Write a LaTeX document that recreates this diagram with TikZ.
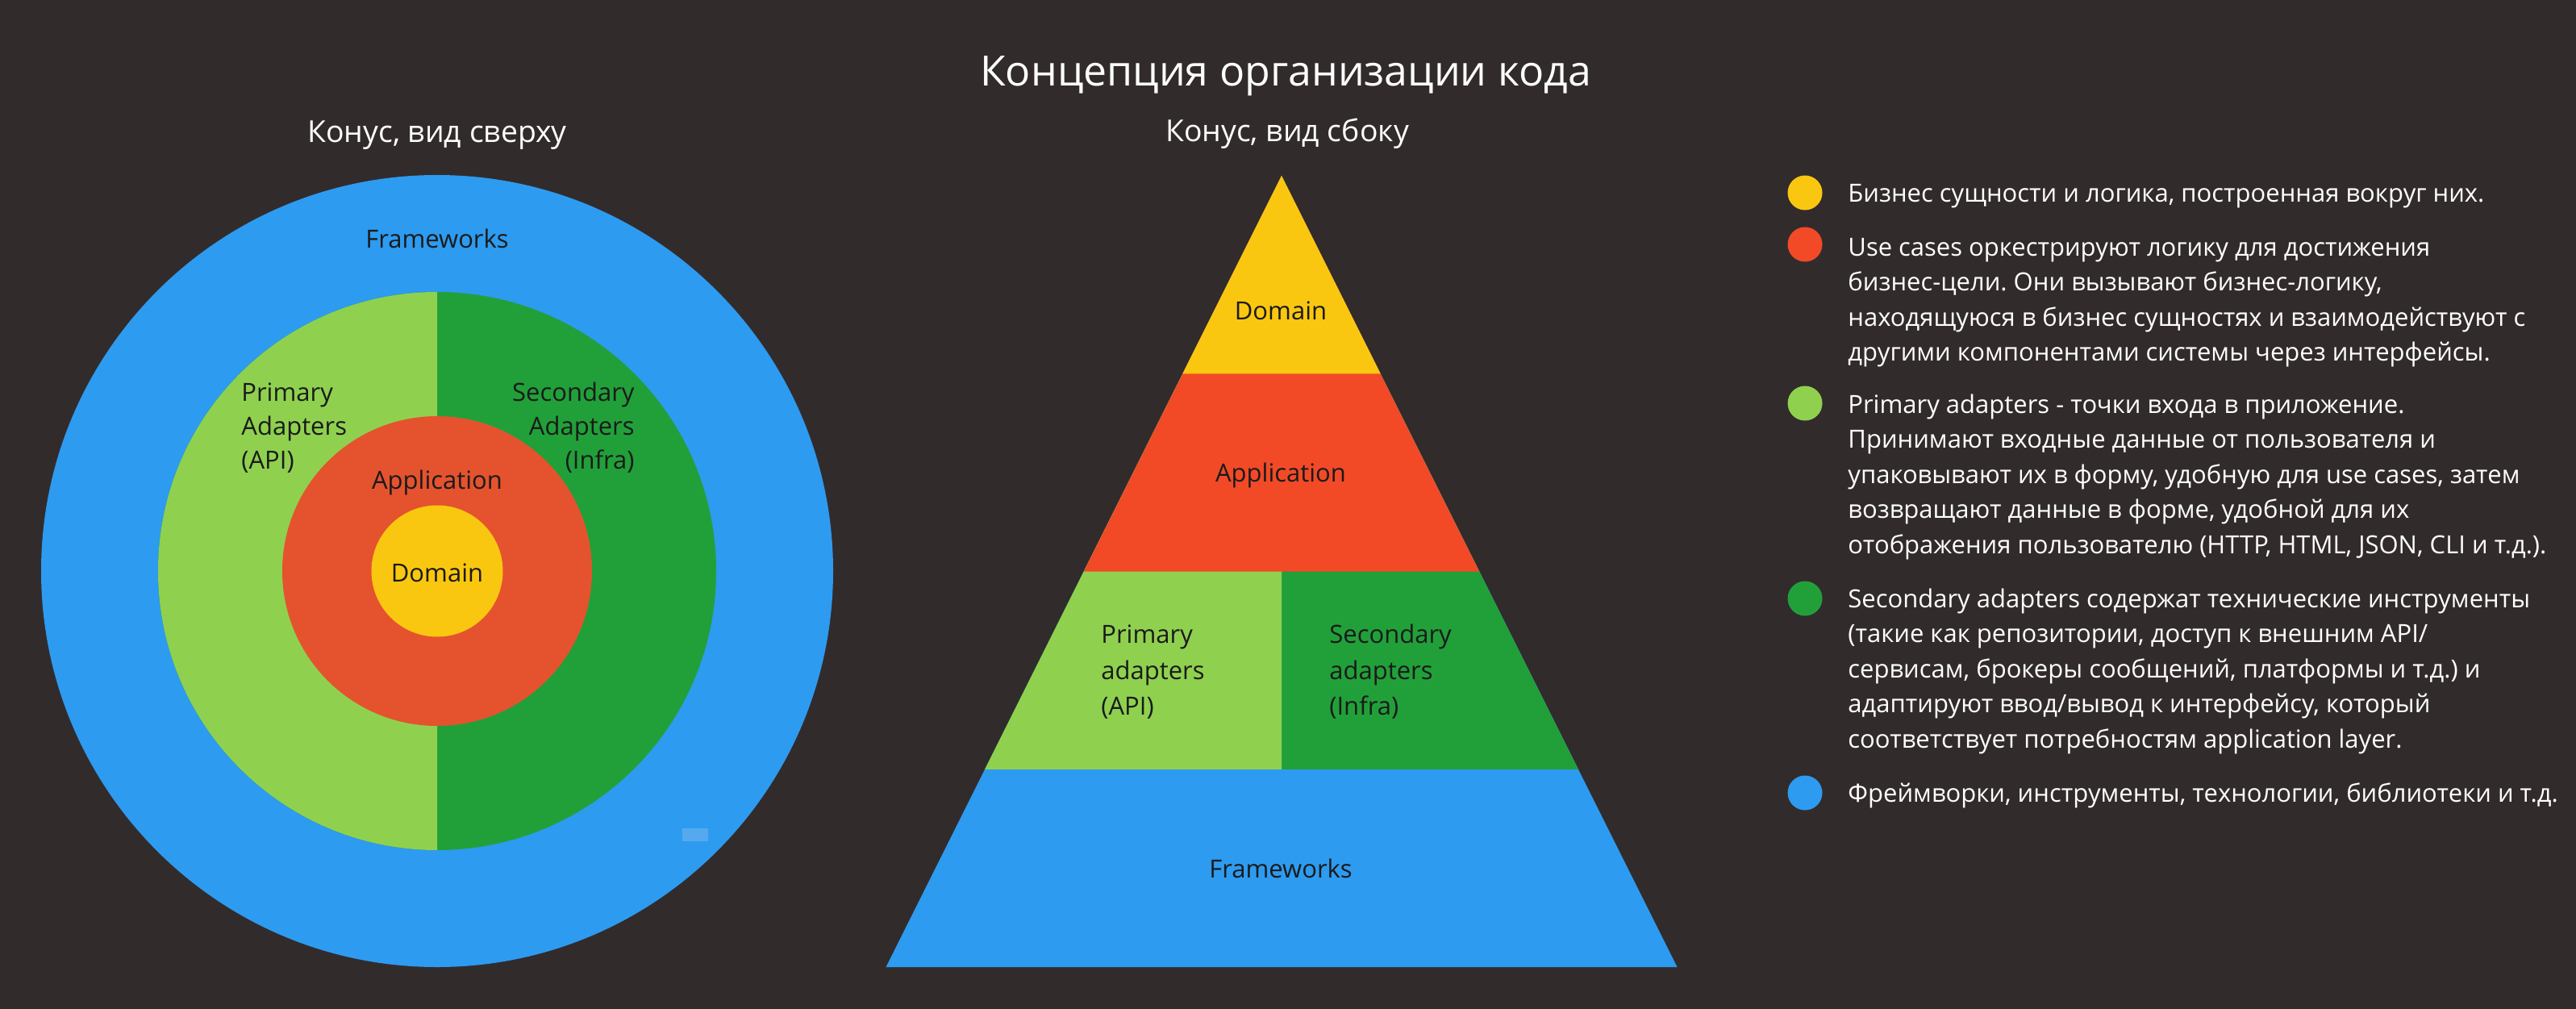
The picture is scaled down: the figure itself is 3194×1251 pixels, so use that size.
\documentclass[tikz,border=0pt]{standalone}
\usepackage{fontspec}
\setmainfont{Open Sans}
\frenchspacing
\definecolor{bg}{HTML}{322B2C}
\definecolor{cblue}{HTML}{2D9BF0}
\definecolor{lgreen}{HTML}{8FD14F}
\definecolor{dgreen}{HTML}{21A03A}
\definecolor{cred}{HTML}{E4532E}
\definecolor{pred}{HTML}{F24A27}
\definecolor{cyellow}{HTML}{FAC710}
\definecolor{txt}{HTML}{1A1A1A}
\definecolor{tagbox}{HTML}{56A9EF}
\tikzset{
  lbl/.style={font=\fontsize{15.5pt}{21pt}\selectfont, text=txt, inner sep=0pt},
  plbl/.style={font=\fontsize{15.5pt}{22.2pt}\selectfont, text=txt, inner sep=0pt},
  legend/.style={font=\fontsize{15.5pt}{21.75pt}\selectfont, text=white, inner sep=0pt, align=left, anchor=base west},
  dot/.style={circle, inner sep=0pt, minimum size=21.5pt},
  ttl/.style={text=white, inner sep=0pt, anchor=base},
}
\begin{document}
\begin{tikzpicture}[x=0.5pt,y=-0.5pt]
\fill[bg] (0,0) rectangle (3194,1251);
\useasboundingbox (0,0) rectangle (3194,1251);

% titles
\node[ttl, font=\fontsize{25.9pt}{30pt}\selectfont] (title) at (1594,107) {Концепция организации кода};
\node[ttl, font=\fontsize{18.7pt}{22pt}\selectfont] (sub1) at (542,177) {Конус, вид сверху};
\node[ttl, font=\fontsize{18.7pt}{22pt}\selectfont] (sub2) at (1596,176) {Конус, вид сбоку};

% top view (circles)
\coordinate (cc) at (542,708);
\fill[cblue] (cc) circle[radius=245.5pt];
\fill[dgreen] (cc) circle[radius=173pt];
\begin{scope}
  \clip (150,300) rectangle (542,1100);
  \fill[lgreen] (cc) circle[radius=173pt];
\end{scope}
\fill[cred] (cc) circle[radius=96pt];
\fill[cyellow] (cc) circle[radius=40.75pt];
\fill[tagbox] (846,1027) rectangle (878,1043);

% (base anchor of a multi-line node = baseline of its last line)
\node[lbl, anchor=base] (cfw) at (542,308) {Frameworks};
\node[lbl, anchor=base west, align=left] (cpa) at (299,581) {Primary\\Adapters\\(API)};
\node[lbl, anchor=base east, align=right] (csa) at (787,581) {Secondary\\Adapters\\(Infra)};
\node[lbl, anchor=base] (capp) at (542,606) {Application};
\node[lbl, anchor=base] (cdom) at (542,721) {Domain};

% side view (pyramid)
\fill[cblue] (1589,218) -- (2079.5,1199) -- (1098.5,1199) -- cycle;
\fill[dgreen] (1589,218) -- (1956.875,953.75) -- (1221.125,953.75) -- cycle;
\fill[lgreen] (1589,218) -- (1589,953.75) -- (1221.125,953.75) -- cycle;
\fill[pred] (1589,218) -- (1834.25,708.5) -- (1343.75,708.5) -- cycle;
\fill[cyellow] (1589,218) -- (1711.625,463.25) -- (1466.375,463.25) -- cycle;

\node[lbl, anchor=base] (pdom) at (1588,396) {Domain};
\node[lbl, anchor=base] (papp) at (1588,597) {Application};
\node[plbl, anchor=base west, align=left] (ppa) at (1365,886.5) {Primary\\adapters\\(API)};
\node[plbl, anchor=base west, align=left] (psa) at (1648,886.5) {Secondary\\adapters\\(Infra)};
\node[lbl, anchor=base] (pfw) at (1588,1088) {Frameworks};

% legend
\node[dot, fill=cyellow] (d1) at (2238,239) {};
\node[dot, fill=pred] (d2) at (2238,303) {};
\node[dot, fill=lgreen] (d3) at (2238,500) {};
\node[dot, fill=dgreen] (d4) at (2238,742) {};
\node[dot, fill=cblue] (d5) at (2238,983) {};

\node[legend] (t1) at (2291,251) {Бизнес сущности и логика, построенная вокруг них.};
\node[legend] (t2) at (2291,447.5) {Use cases оркестрируют логику для достижения\\бизнес-цели. Они вызывают бизнес-логику,\\находящуюся в бизнес сущностях и взаимодействуют с\\другими компонентами системы через интерфейсы.};
\node[legend] (t3) at (2291,686) {Primary adapters - точки входа в приложение.\\Принимают входные данные от пользователя и\\упаковывают их в форму, удобную для use cases, затем\\возвращают данные в форме, удобной для их\\отображения пользователю (HTTP, HTML, JSON, CLI и т.д.).};
\node[legend] (t4) at (2291,927) {Secondary adapters содержат технические инструменты\\(такие как репозитории, доступ к внешним API/\\сервисам, брокеры сообщений, платформы и т.д.) и\\адаптируют ввод/вывод к интерфейсу, который\\соответствует потребностям application layer.};
\node[legend] (t5) at (2291,994) {Фреймворки, инструменты, технологии, библиотеки и т.д.};
\end{tikzpicture}
\end{document}
